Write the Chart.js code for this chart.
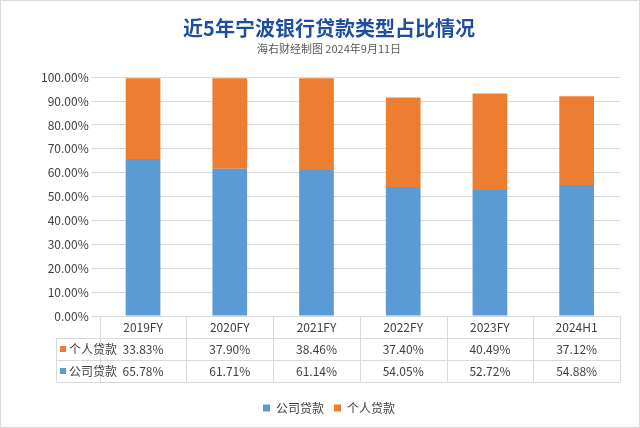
<!DOCTYPE html><html><head><meta charset="utf-8">
<script src="https://cdn.jsdelivr.net/npm/chart.js@4/dist/chart.umd.min.js"></script>
<style>html,body{margin:0;background:#fff}</style></head><body><canvas id="c" width="640" height="428"></canvas>
<script>
const categories=['2019FY','2020FY','2021FY','2022FY','2023FY','2024H1'];
const corporate=[65.78,61.71,61.14,54.05,52.72,54.88];
const personal=[33.83,37.90,38.46,37.40,40.49,37.12];
const seriesNames=['公司贷款','个人贷款'];
const FONT='"Noto Sans CJK SC","Noto Sans",sans-serif';
const tablePlugin={id:'tbl',afterDraw(ch){
 const c=ch.ctx,a=ch.chartArea;const rh=22;const left=56;
 const top=a.bottom;c.save();c.strokeStyle='#d9d9d9';c.lineWidth=1;
 c.strokeRect(0.5,0.5,639,427);
 const step=(a.right-a.left)/categories.length;
 c.beginPath();
 for(let i=0;i<=categories.length;i++){const xx=Math.round(a.left+i*step)+0.5;c.moveTo(xx,top);c.lineTo(xx,top+rh*3);}
 c.moveTo(left+0.5,top+rh);c.lineTo(left+0.5,top+rh*3);
 for(let r=1;r<=3;r++){const yy=Math.round(top+rh*r)+0.5;c.moveTo(left,yy);c.lineTo(a.right,yy);}
 c.stroke();
 c.fillStyle='#404040';c.font='12px '+FONT;c.textAlign='center';c.textBaseline='middle';
 categories.forEach((t,i)=>{const cx=a.left+(i+0.5)*step;c.fillText(t,cx,top+rh/2);
  c.fillText(personal[i].toFixed(2)+'%',cx,top+rh*1.5);c.fillText(corporate[i].toFixed(2)+'%',cx,top+rh*2.5);});
 c.textAlign='left';
 [['#ED7D31',seriesNames[1],1.5],['#5B9BD5',seriesNames[0],2.5]].forEach(([col,n,r])=>{
  c.fillStyle=col;c.fillRect(left+4,top+rh*r-3,6,6);c.fillStyle='#404040';c.fillText(n,left+13,top+rh*r);});
 c.restore();}};
new Chart(document.getElementById('c'),{type:'bar',
 data:{labels:categories,datasets:[
  {label:seriesNames[0],data:corporate,backgroundColor:'#5B9BD5',barPercentage:0.4,categoryPercentage:1},
  {label:seriesNames[1],data:personal,backgroundColor:'#ED7D31',barPercentage:0.4,categoryPercentage:1}]},
 options:{responsive:false,animation:false,devicePixelRatio:1,
  layout:{padding:{left:38,right:20,bottom:4,top:6}},
  plugins:{title:{display:true,text:'近5年宁波银行贷款类型占比情况',color:'#1F4E9E',font:{family:FONT,size:20,weight:'bold'},padding:{top:10,bottom:2}},
   subtitle:{display:true,text:'海右财经制图 2024年9月11日',color:'#595959',font:{family:FONT,size:11},padding:{bottom:22}},
   legend:{position:'bottom',labels:{boxWidth:7,boxHeight:7,color:'#404040',font:{family:FONT,size:12},padding:10}},tooltip:{enabled:false}},
  scales:{x:{stacked:true,grid:{display:false},border:{color:'#d9d9d9'},ticks:{display:false},afterFit(s){s.height=76;}},
   y:{stacked:true,min:0,max:100,ticks:{stepSize:10,color:'#404040',font:{family:FONT,size:12},callback:v=>v.toFixed(2)+'%'},grid:{color:'#d9d9d9'},border:{display:false}}}},
 plugins:[tablePlugin]});
</script></body></html>
